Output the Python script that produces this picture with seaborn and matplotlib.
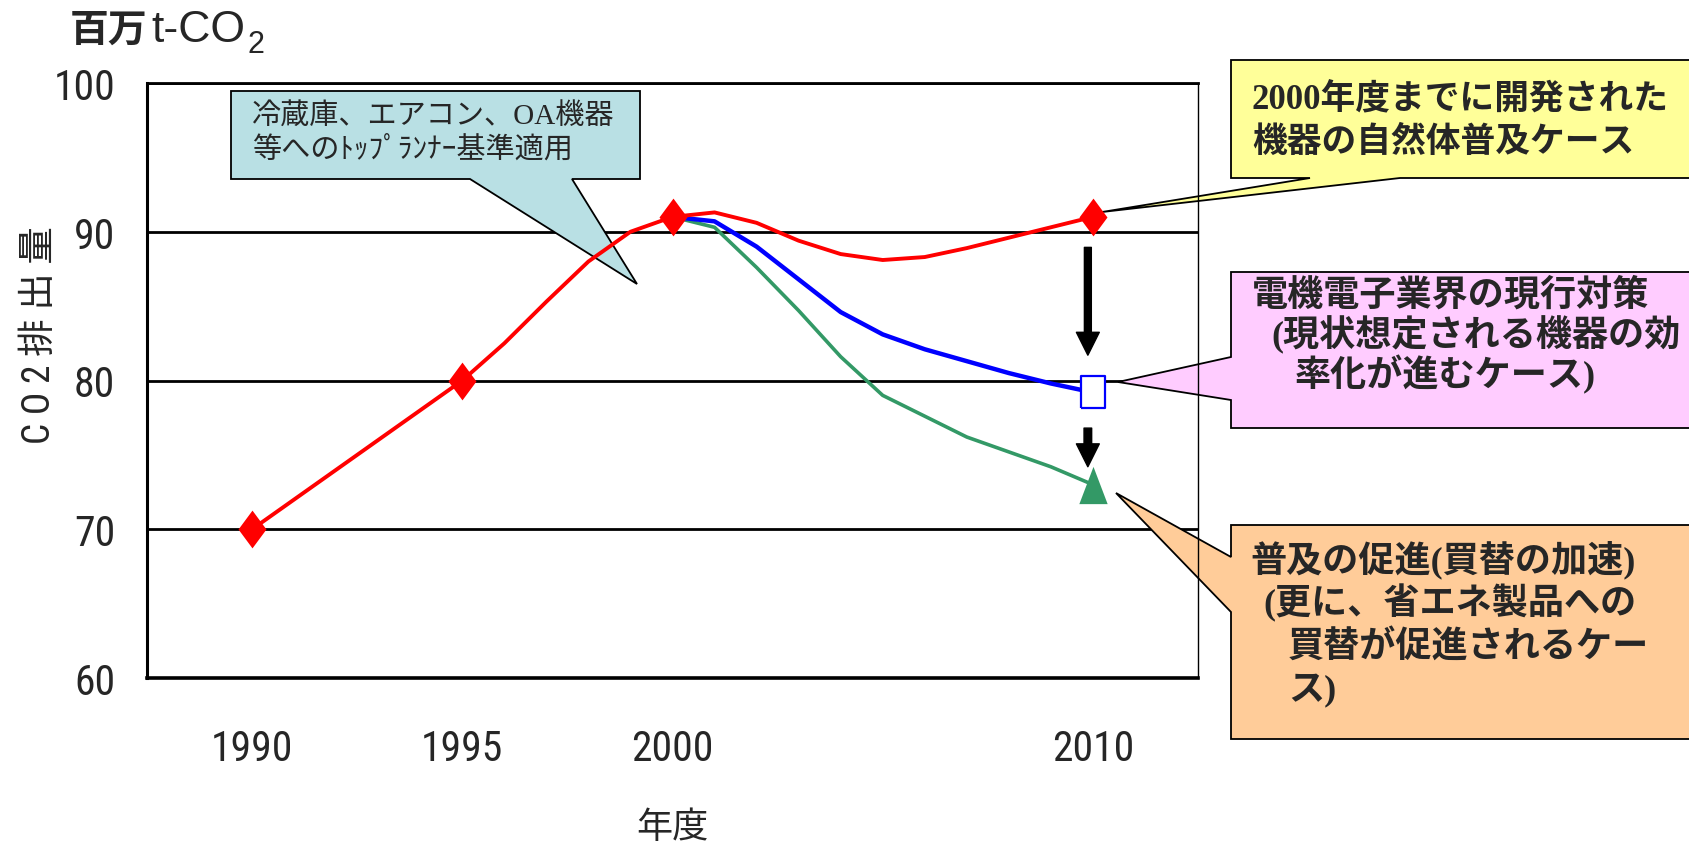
import matplotlib
matplotlib.use('Agg')
import matplotlib.pyplot as plt
import seaborn as sns
from matplotlib import font_manager
from matplotlib.patches import Polygon

# --- data (million t-CO2) ---
years = list(range(1990, 2011))
natural = [70, 72, 74, 76, 78, 80, 82.5, 85.3, 88.0, 90.0, 91.0,
           91.3, 90.6, 89.4, 88.5, 88.1, 88.3, 88.9, 89.6, 90.3, 91.0]
case_years = list(range(2000, 2011))
current = [91.0, 90.7, 89.0, 86.8, 84.6, 83.1, 82.1, 81.3, 80.5, 79.8, 79.2]
promoted = [91.0, 90.3, 87.6, 84.7, 81.6, 79.0, 77.6, 76.2, 75.2, 74.2, 73.0]
natural_marks = [1990, 1995, 2000, 2010]
xticks = [1990, 1995, 2000, 2010]
yticks = [60, 70, 80, 90, 100]

note_top = ['冷蔵庫、エアコン、OA機器', '等へのﾄｯﾌﾟﾗﾝﾅｰ基準適用']
note_natural = ['2000年度までに開発された', '機器の自然体普及ケース']
note_current = ['電機電子業界の現行対策', '(現状想定される機器の効', '率化が進むケース)']
note_promoted = ['普及の促進(買替の加速)', '(更に、省エネ製品への', '買替が促進されるケー', 'ス)']

RED, BLUE, GREEN = '#FF0000', '#0000FF', '#339966'

sns.set_style('white')
names = {f.name for f in font_manager.fontManager.ttflist}
narrow = next((n for n in ['Liberation Sans Narrow', 'Arial Narrow', 'Roboto Condensed',
                           'Open Sans Condensed'] if n in names), None)
if narrow is None:
    narrow = next((n for n in sorted(names) if 'Narrow' in n or
                   ('Condensed' in n and 'DejaVu' not in n)), 'Liberation Sans')
plt.rcParams['font.family'] = [narrow, 'Noto Sans CJK JP', 'DejaVu Sans']
box_family = ['Liberation Serif', 'Noto Sans CJK JP', 'DejaVu Sans']

W, H = 1690, 845
fig = plt.figure(figsize=(W / 100, H / 100), dpi=100)
ax = fig.add_axes([147 / W, 1 - 679 / H, 1051 / W, 595 / H])


def fxy(x, y):
    return (x / W, 1 - y / H)


# lines
sns.lineplot(x=case_years, y=promoted, color=GREEN, lw=2.6, ax=ax, zorder=3)
sns.lineplot(x=case_years, y=current, color=BLUE, lw=3.2, ax=ax, zorder=3.1)
sns.lineplot(x=years, y=natural, color=RED, lw=2.8, ax=ax, zorder=3.2)

# markers
diamond = [(0, 1), (0.74, 0), (0, -1), (-0.74, 0), (0, 1)]
square = [(-0.79, -1), (0.79, -1), (0.79, 1), (-0.79, 1), (-0.79, -1)]
triangle = [(0, 1), (0.76, -1), (-0.76, -1), (0, 1)]
sns.scatterplot(x=natural_marks, y=[natural[years.index(y)] for y in natural_marks],
                marker=diamond, s=740, color=RED, linewidth=0, ax=ax, zorder=4)
sns.scatterplot(x=[case_years[-1]], y=[current[-1]], marker=square, s=500,
                facecolor='white', edgecolor=BLUE, linewidth=1.6, ax=ax, zorder=4)
sns.scatterplot(x=[case_years[-1]], y=[promoted[-1]], marker=triangle, s=720,
                color=GREEN, linewidth=0, ax=ax, zorder=4)

# arrows between the cases
for y0, y1, tw in [(88.95, 81.7, 0.5), (76.8, 74.2, 0.55)]:
    ax.annotate('', xy=(2009.88, y1), xytext=(2009.88, y0),
                arrowprops=dict(arrowstyle=f'simple,head_length=1.65,head_width=1.65,tail_width={tw}',
                                color='black', shrinkA=0, shrinkB=0, mutation_scale=10),
                zorder=4)

ax.set_xlim(1987.5, 2012.5)
ax.set_ylim(60, 100)
ax.set_xticks(xticks)
ax.set_yticks(yticks)
ax.tick_params(axis='both', length=0, labelsize=30)
ax.tick_params(axis='y', pad=23)
ax.tick_params(axis='x', pad=36)
ax.set_axisbelow(True)
ax.yaxis.grid(True, color='black', lw=2)
ax.xaxis.grid(False)
for side, lw in [('left', 2.2), ('bottom', 2.6), ('top', 2.0), ('right', 1.0)]:
    ax.spines[side].set_visible(True)
    ax.spines[side].set_color('black')
    ax.spines[side].set_linewidth(lw)

ax.set_xlabel('年度', fontsize=26, labelpad=29)
ax.set_ylabel('C O 2 排 出 量', fontsize=27, va='center')
ax.yaxis.set_label_coords((40 - 147) / 1051, (679 - 335) / 595)

# unit label
fig.text(*fxy(70, 30), '百万', fontsize=28, fontweight='bold', ha='left', va='center',
         family=['Noto Sans CJK JP'])
fig.text(*fxy(151, 31), 't-CO', fontsize=32, ha='left', va='center', family=['Liberation Sans'])
fig.text(*fxy(248, 45), '2', fontsize=22, ha='left', va='center', family=['Liberation Sans'])


# callouts (pixel layout of the reference)
def callout(verts, color):
    ax.add_patch(Polygon([fxy(*v) for v in verts], closed=True, transform=fig.transFigure,
                         facecolor=color, edgecolor='black', lw=1.3, clip_on=False, zorder=1.5))


def lines_text(rows, size, bold):
    for x, y, s in rows:
        ax.text(*fxy(x, y), s, transform=fig.transFigure, ha='left', va='center',
                fontsize=size, fontweight='bold' if bold else 'normal',
                family=box_family, clip_on=False, zorder=5)


callout([(231, 92), (640, 92), (640, 180), (572, 180), (637, 285), (470, 180), (231, 180)], '#B9E0E4')
lines_text([(252, 116, note_top[0]), (252, 150, note_top[1])], 21, False)

callout([(1231, 61), (1695, 61), (1695, 179), (1400, 179), (1102, 213), (1310, 179), (1231, 179)], '#FFFF99')
lines_text([(1252, 101, note_natural[0]), (1252, 143, note_natural[1])], 25, True)

callout([(1231, 273), (1695, 273), (1695, 429), (1231, 429), (1231, 401), (1118, 383), (1231, 358)], '#FFCCFF')
lines_text([(1252, 296, note_current[0]), (1271, 335, note_current[1]),
            (1295, 375, note_current[2])], 26, True)

callout([(1231, 526), (1695, 526), (1695, 740), (1231, 740), (1231, 613), (1116, 494), (1231, 558)], '#FFCC99')
lines_text([(1250, 560, note_promoted[0]), (1263, 603, note_promoted[1]),
            (1288, 647, note_promoted[2]), (1288, 691, note_promoted[3])], 26, True)

fig.savefig('out.png', dpi=100)
